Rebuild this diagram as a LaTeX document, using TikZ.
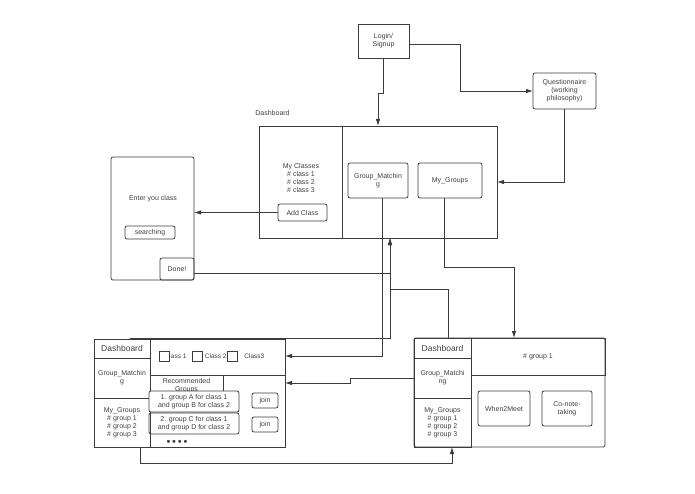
\documentclass[tikz,border=0pt]{standalone}
\usepackage{fontspec}
\setmainfont{Liberation Sans}
\usetikzlibrary{positioning,arrows.meta}
\definecolor{ink}{HTML}{3C3C3C}
\definecolor{textgray}{HTML}{404040}

\begin{document}
\begin{tikzpicture}[x=1pt,y=-1pt,color=ink,line width=0.8pt,>={Latex[length=7pt,width=4.5pt]},
        every node/.style={text=textgray,font=\fontsize{7}{8}\selectfont,align=center,inner sep=0pt},
        box/.style={draw=ink,outer sep=0pt},
        rbox/.style={draw=ink,outer sep=0pt,rounded corners=2pt},
        big/.style={font=\fontsize{8.5}{10}\selectfont},
        small/.style={font=\fontsize{6.5}{8}\selectfont}]
                \useasboundingbox (0,0) rectangle (695,494);
                \node[box,minimum width=51pt,minimum height=34pt] (LS) at (383.5,41) {Login/\\Signup};
                \node[rbox,minimum width=63pt,minimum height=36pt] (Q) at (564.5,91) {Questionnaire\\(working\\philosophy)};
                \node[anchor=west] (DL) at (255,113) {Dashboard};
                \node[box,minimum width=238pt,minimum height=112pt] (D) at (378,182) {};
                \draw (D.north west) ++(83,0) -- ++(0,112);
                \node (MC) at (301,178) {My Classes\\\# class 1\\\# class 2\\\# class 3};
                \node[rbox,minimum width=49pt,minimum height=17pt] (AC) at (302.5,212.5) {Add Class};
                \node[rbox,minimum width=60pt,minimum height=35pt] (GM) at (378,180.5) {Group\_Matchin\\g};
                \node[rbox,minimum width=64pt,minimum height=35pt] (MG) at (450,180.5) {My\_Groups};
                \node[rbox,minimum width=83pt,minimum height=123pt] (EC) at (152.5,218.5) {};
                \node (ECt) at (153,199) {Enter you class};
                \node[rbox,minimum width=50pt,minimum height=13pt] (S) at (150,232.5) {searching};
                \node[rbox,minimum width=34pt,minimum height=22pt,anchor=south east] (Dn) at (EC.south east) {Done!};

                \node[box,minimum width=191pt,minimum height=108pt] (BL) at (189.5,393) {};
                \node[box,big,minimum width=56pt,minimum height=19pt,anchor=north west] (BLd) at (BL.north west) {Dashboard};
                \node[box,minimum width=56pt,minimum height=40pt,below=0pt of BLd] (BLgm) {Group\_Matchin\\g};
                \node[box,minimum width=56pt,minimum height=49pt,below=0pt of BLgm] (BLmg) {My\_Groups\\\# group 1\\\# group 2\\\# group 3};
                \node[box,minimum width=135pt,minimum height=36pt,anchor=north west] (BLc) at (BLd.north east) {};
                \node[box,minimum size=10pt] (C1) at (164,356) {};
                \node[box,minimum size=10pt] (C2) at (197.5,356) {};
                \node[small,anchor=west] (T1) at ([xshift=1.5pt]C1.east) {ass 1};
                \node[small,anchor=west] (T2) at ([xshift=2pt]C2.east) {Class 2};
                \node[box,minimum size=10pt] (C3) at (232,356) {};
                \node[small,anchor=west] (T3) at (244,356) {Class3};
                \node[box,minimum width=73pt,minimum height=16pt,anchor=north west] (RG) at (BLc.south west) {};
                \node (RGt) at ([yshift=-2.5pt]RG.center) {Recommended\\Groups};
                \node[rbox,fill=white,minimum width=90pt,minimum height=21pt] (G1) at (194,401.5) {1. group A for class 1\\and group B for class 2};
                \node[rbox,minimum width=90pt,minimum height=21pt] (G2) at (194,423.5) {2. group C for class 1\\and group D for class 2};
                \node[rbox,minimum width=26pt,minimum height=15pt] (J1) at (265,400.5) {join};
                \node[rbox,minimum width=26pt,minimum height=15pt] (J2) at (265,424.5) {join};
                \node[font=\fontsize{11}{11}\selectfont] (dots) at (177,443) {•\,•\,•\,•};

                \node[box,rounded corners=1.5pt,minimum width=191pt,minimum height=109pt] (BR) at (509.5,392.5) {};
                \node[box,big,minimum width=57pt,minimum height=20pt,anchor=north west] (BRd) at (BR.north west) {Dashboard};
                \node[box,minimum width=57pt,minimum height=40pt,below=0pt of BRd] (BRgm) {Group\_Matchi\\ng};
                \node[box,minimum width=57pt,minimum height=49pt,below=0pt of BRgm] (BRmg) {My\_Groups\\\# group 1\\\# group 2\\\# group 3};
                \node[box,minimum width=134pt,minimum height=37pt,anchor=north west] (BRc) at (BRd.north east) {\# group 1};
                \node[rbox,minimum width=52pt,minimum height=35pt] (W2M) at (504,408.5) {When2Meet};
                \node[rbox,minimum width=50pt,minimum height=35pt] (CN) at (567,408.5) {Co-note-\\taking};

                \draw[->] (LS.south) -- ++(0,35) -| (D.north);
                \draw[->] ([yshift=-3pt]LS.east) -- ++(51,0) |- (Q.west);
                \draw[->] (Q.south) |- (D.east);
                \draw[->] (AC.west) -- (AC.west -| EC.east);
                \draw[->] ([yshift=-4pt]Dn.east) -| ([xshift=12pt]D.south);
                \draw[->] ([xshift=8pt,yshift=1pt]BLd.north) -| ([xshift=12pt]D.south);
                \draw[->] ([xshift=6pt]BRd.north) -- ++(0,-49) -| ([xshift=12pt]D.south);
                \draw[->] ([xshift=4pt]GM.south) |- (BL.east |- C1);
                \draw[->] ([xshift=-6pt]MG.south) -- ++(0,69) -| ([xshift=4.5pt]BR.north);
                \draw[->] (BRgm.west) -- ++(-64,0) |- (BL.east |- RG);
                \draw[->] ([xshift=18pt]BLmg.south) -- ++(0,16) -| ([xshift=9.5pt]BRmg.south);
            \end{tikzpicture}
\end{document}
